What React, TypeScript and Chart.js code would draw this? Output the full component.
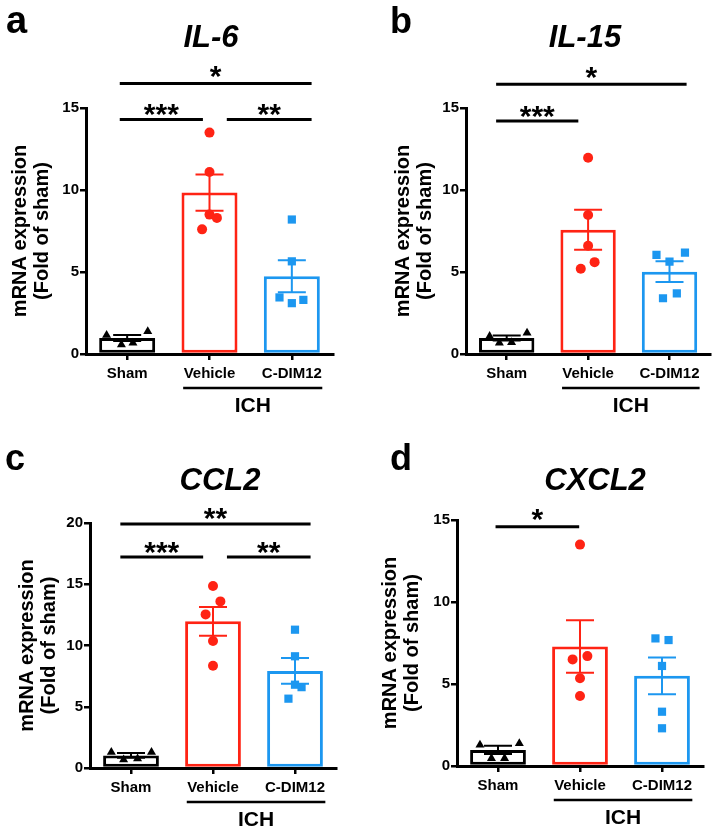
import React, { useEffect, useRef } from 'react';
import { Chart, registerables } from 'chart.js';

Chart.register(...registerables);

const FONT = '"Liberation Sans", Arial, Helvetica, sans-serif';

// ---------- shared ----------
const categories = ['Sham', 'Vehicle', 'C-DIM12'];
const groupColors = ['#000000', '#FF2314', '#1C97F0'];
const groupShapes = ['triangle', 'circle', 'rect'];
const groupRadius = [5.2, 5, 5.8];
const yTitleLines = ['mRNA expression', '(Fold of sham)'];
const groupLabel = 'ICH';

// ---------- a: IL-6 ----------
const il6Mean = [0.98, 9.84, 4.74];
const il6Sem = [0.18, 1.1, 0.97];
const il6Sham = [1.15, 0.57, 0.67, 1.38];
const il6Vehicle = [13.5, 11.1, 8.5, 8.3, 7.6];
const il6Cdim12 = [8.2, 5.65, 3.45, 3.1, 3.3];
const il6Ticks = [0, 5, 10, 15];
const il6Brackets = [
  { from: 0, to: 2, level: 16.5, label: '*' },
  { from: 0, to: 1, level: 14.3, label: '***' },
  { from: 1, to: 2, level: 14.3, label: '**' },
];

// ---------- b: IL-15 ----------
const il15Mean = [0.98, 7.58, 5.02];
const il15Sem = [0.15, 1.22, 0.63];
const il15Sham = [1.08, 0.67, 0.71, 1.28];
const il15Vehicle = [11.97, 8.48, 6.6, 5.2, 5.6];
const il15Cdim12 = [6.04, 6.18, 5.63, 3.7, 3.4];
const il15Ticks = [0, 5, 10, 15];
const il15Brackets = [
  { from: 0, to: 2, level: 16.45, label: '*' },
  { from: 0, to: 1, level: 14.2, label: '***' },
];

// ---------- c: CCL2 ----------
const ccl2Mean = [1.03, 11.97, 7.92];
const ccl2Sem = [0.2, 1.17, 1.05];
const ccl2Sham = [1.3, 0.68, 0.76, 1.3];
const ccl2Vehicle = [14.86, 13.6, 12.54, 10.37, 8.35];
const ccl2Cdim12 = [11.29, 9.12, 6.8, 6.6, 5.66];
const ccl2Ticks = [0, 5, 10, 15, 20];
const ccl2Brackets = [
  { from: 0, to: 2, level: 19.92, label: '**' },
  { from: 0, to: 1, level: 17.22, label: '***' },
  { from: 1, to: 2, level: 17.22, label: '**' },
];

// ---------- d: CXCL2 ----------
const cxcl2Mean = [0.98, 7.28, 5.5];
const cxcl2Sem = [0.25, 1.6, 1.12];
const cxcl2Sham = [1.28, 0.47, 0.47, 1.38];
const cxcl2Vehicle = [13.5, 6.5, 6.7, 5.35, 4.27];
const cxcl2Cdim12 = [7.78, 7.68, 6.1, 3.31, 2.3];
const cxcl2Ticks = [0, 5, 10, 15];
const cxcl2Brackets = [{ from: 0, to: 1, level: 14.59, label: '*' }];

// ---------- layout (positions / sizes only) ----------
type Layout = {
  x: number; y: number; w: number; h: number;
  area: { l: number; r: number; t: number; b: number };
  yTitlePad: number;
  title: { x: number; base: number };
  letter: { x: number; base: number; size: number };
  jitter: number[][];
  bracketEnds: number[][];
};

const layoutA: Layout = {
  x: 0, y: 0, w: 358, h: 420,
  area: { l: 86, r: 333, t: 108, b: 354 },
  yTitlePad: 9,
  title: { x: 211, base: 47 },
  letter: { x: 6, base: 33, size: 38 },
  jitter: [[-0.25, -0.07, 0.07, 0.25], [0, 0, 0, 0.09, -0.09], [0, 0, -0.15, 0, 0.14]],
  bracketEnds: [[-0.09, 0.24], [-0.09, -0.08], [0.21, 0.24]],
};
const layoutB: Layout = {
  x: 358, y: 0, w: 358, h: 420,
  area: { l: 108, r: 354, t: 108, b: 354 },
  yTitlePad: 34,
  title: { x: 227, base: 47 },
  letter: { x: 32, base: 33, size: 36 },
  jitter: [[-0.21, -0.09, 0.06, 0.25], [0, 0, 0, -0.09, 0.08], [-0.16, 0.19, 0, 0.09, -0.08]],
  bracketEnds: [[-0.13, 0.21], [-0.13, -0.12]],
};
const layoutC: Layout = {
  x: 0, y: 410, w: 358, h: 419,
  area: { l: 90, r: 336, t: 113, b: 358 },
  yTitlePad: 16,
  title: { x: 220, base: 80 },
  letter: { x: 5, base: 60, size: 36 },
  jitter: [[-0.24, -0.09, 0.08, 0.25], [0, 0.09, -0.09, 0, 0], [0, 0, 0, 0.08, -0.08]],
  bracketEnds: [[-0.13, 0.19], [-0.13, -0.12], [0.17, 0.19]],
};
const layoutD: Layout = {
  x: 358, y: 410, w: 358, h: 419,
  area: { l: 99, r: 345, t: 110, b: 356 },
  yTitlePad: 21,
  title: { x: 237, base: 80 },
  letter: { x: 32, base: 60, size: 36 },
  jitter: [[-0.22, -0.08, 0.08, 0.26], [0, -0.09, 0.09, 0, 0], [-0.08, 0.08, 0, 0, 0]],
  bracketEnds: [[-0.03, -0.01]],
};

type Panel = {
  letter: string; title: string;
  mean: number[]; sem: number[]; groups: number[][];
  ticks: number[];
  brackets: { from: number; to: number; level: number; label: string }[];
  layout: Layout;
};

const panels: Panel[] = [
  { letter: 'a', title: 'IL-6', mean: il6Mean, sem: il6Sem, groups: [il6Sham, il6Vehicle, il6Cdim12], ticks: il6Ticks, brackets: il6Brackets, layout: layoutA },
  { letter: 'b', title: 'IL-15', mean: il15Mean, sem: il15Sem, groups: [il15Sham, il15Vehicle, il15Cdim12], ticks: il15Ticks, brackets: il15Brackets, layout: layoutB },
  { letter: 'c', title: 'CCL2', mean: ccl2Mean, sem: ccl2Sem, groups: [ccl2Sham, ccl2Vehicle, ccl2Cdim12], ticks: ccl2Ticks, brackets: ccl2Brackets, layout: layoutC },
  { letter: 'd', title: 'CXCL2', mean: cxcl2Mean, sem: cxcl2Sem, groups: [cxcl2Sham, cxcl2Vehicle, cxcl2Cdim12], ticks: cxcl2Ticks, brackets: cxcl2Brackets, layout: layoutD },
];

function buildConfig(p: Panel): any {
  const L = p.layout;
  const yMax = p.ticks[p.ticks.length - 1];

  const decor = {
    id: 'decor_' + p.letter,
    afterDatasetDraw(chart: any, args: any) {
      if (args.index !== 0) return;
      const ctx = chart.ctx;
      const xs = chart.scales.x;
      const ys = chart.scales.y;
      ctx.save();
      ctx.lineWidth = 2;
      p.mean.forEach((m, i) => {
        const cx = xs.getPixelForValue(i);
        const top = ys.getPixelForValue(m + p.sem[i]);
        const bot = ys.getPixelForValue(m - p.sem[i]);
        const half = 14;
        ctx.strokeStyle = groupColors[i];
        ctx.beginPath();
        ctx.moveTo(cx, top);
        ctx.lineTo(cx, bot);
        ctx.moveTo(cx - half, top);
        ctx.lineTo(cx + half, top);
        ctx.moveTo(cx - half, bot);
        ctx.lineTo(cx + half, bot);
        ctx.stroke();
      });
      ctx.restore();
    },
    afterDraw(chart: any) {
      const ctx = chart.ctx;
      const xs = chart.scales.x;
      const ys = chart.scales.y;
      const catW = (chart.chartArea.right - chart.chartArea.left) / categories.length;
      ctx.save();
      // significance brackets
      ctx.strokeStyle = '#000';
      ctx.fillStyle = '#000';
      ctx.lineWidth = 3;
      p.brackets.forEach((b, k) => {
        const ends = L.bracketEnds[k];
        const x0 = xs.getPixelForValue(b.from) + ends[0] * catW;
        const x1 = xs.getPixelForValue(b.to) + ends[1] * catW;
        const yy = ys.getPixelForValue(b.level);
        ctx.beginPath();
        ctx.moveTo(x0, yy);
        ctx.lineTo(x1, yy);
        ctx.stroke();
        ctx.font = `bold 30px ${FONT}`;
        ctx.textAlign = 'center';
        ctx.textBaseline = 'alphabetic';
        ctx.fillText(b.label, (x0 + x1) / 2, yy + (b.label.length === 1 ? 2.5 : 4.5));
      });
      // ICH group line
      const gx0 = xs.getPixelForValue(1) - 0.32 * catW;
      const gx1 = xs.getPixelForValue(2) + 0.37 * catW;
      const gy = chart.chartArea.bottom + 34;
      ctx.lineWidth = 2.5;
      ctx.beginPath();
      ctx.moveTo(gx0, gy);
      ctx.lineTo(gx1, gy);
      ctx.stroke();
      ctx.font = `bold 21px ${FONT}`;
      ctx.textAlign = 'center';
      ctx.fillText(groupLabel, (gx0 + gx1) / 2, gy + 24);
      // title
      ctx.font = `italic bold 31px ${FONT}`;
      ctx.fillText(p.title, L.title.x, L.title.base);
      // panel letter
      ctx.font = `bold ${L.letter.size}px ${FONT}`;
      ctx.textAlign = 'left';
      ctx.fillText(p.letter, L.letter.x, L.letter.base);
      ctx.restore();
    },
  };

  const datasets: any[] = [
    {
      type: 'bar',
      data: p.mean,
      xAxisID: 'x',
      yAxisID: 'y',
      backgroundColor: '#ffffff',
      borderColor: groupColors,
      borderWidth: 3,
      borderSkipped: false,
      barPercentage: 0.68,
      categoryPercentage: 1,
      grouped: false,
      order: 1,
    },
  ];
  p.groups.forEach((vals, gi) => {
    datasets.push({
      type: 'scatter',
      data: vals.map((v, k) => ({ x: gi + L.jitter[gi][k], y: v })),
      xAxisID: 'x2',
      yAxisID: 'y',
      pointStyle: groupShapes[gi],
      pointRadius: groupRadius[gi],
      pointHoverRadius: groupRadius[gi],
      backgroundColor: groupColors[gi],
      borderColor: groupColors[gi],
      borderWidth: 0,
      order: 0,
    });
  });

  return {
    type: 'bar',
    data: { labels: categories, datasets },
    plugins: [decor],
    options: {
      responsive: false,
      animation: false,
      events: [],
      layout: { padding: { left: 0, right: L.w - L.area.r, top: L.area.t, bottom: 0 } },
      plugins: { legend: { display: false }, tooltip: { enabled: false }, title: { display: false } },
      scales: {
        x: {
          type: 'category',
          offset: true,
          grid: { display: true, drawOnChartArea: false, drawTicks: true, tickLength: 6, lineWidth: 2.5, color: '#000', offset: false },
          border: { display: true, width: 3, color: '#000' },
          ticks: { color: '#000', font: { family: FONT, size: 15, weight: 'bold' }, padding: 5, maxRotation: 0, autoSkip: false },
          afterFit: (s: any) => { s.height = L.h - L.area.b; },
        },
        x2: { type: 'linear', display: false, offset: false, min: -0.5, max: 2.5, grid: { offset: false } },
        y: {
          type: 'linear',
          min: 0,
          max: yMax,
          afterBuildTicks: (s: any) => { s.ticks = p.ticks.map((v) => ({ value: v })); },
          ticks: { color: '#000', font: { family: FONT, size: 15, weight: 'bold' }, padding: 1 },
          grid: { display: true, drawOnChartArea: false, drawTicks: true, tickLength: 6, lineWidth: 2.5, color: '#000' },
          border: { display: true, width: 3, color: '#000' },
          title: {
            display: true,
            text: yTitleLines,
            color: '#000',
            font: { family: FONT, size: 20, weight: 'bold', lineHeight: 1.1 },
            padding: { top: L.yTitlePad, bottom: 0 },
          },
          afterFit: (s: any) => { s.width = L.area.l; },
        },
      },
    },
  };
}

function PanelChart({ panel }: { panel: Panel }) {
  const ref = useRef<HTMLCanvasElement>(null);
  const L = panel.layout;
  useEffect(() => {
    const chart = new Chart(ref.current as HTMLCanvasElement, buildConfig(panel));
    return () => chart.destroy();
  }, [panel]);
  return (
    <canvas
      ref={ref}
      width={L.w}
      height={L.h}
      style={{ position: 'absolute', left: L.x, top: L.y, width: L.w, height: L.h }}
    />
  );
}

export default function App() {
  return (
    <div style={{ position: 'absolute', left: 0, top: 0, width: 716, height: 829, background: '#ffffff', overflow: 'hidden' }}>
      {panels.map((p) => (
        <PanelChart key={p.letter} panel={p} />
      ))}
    </div>
  );
}
